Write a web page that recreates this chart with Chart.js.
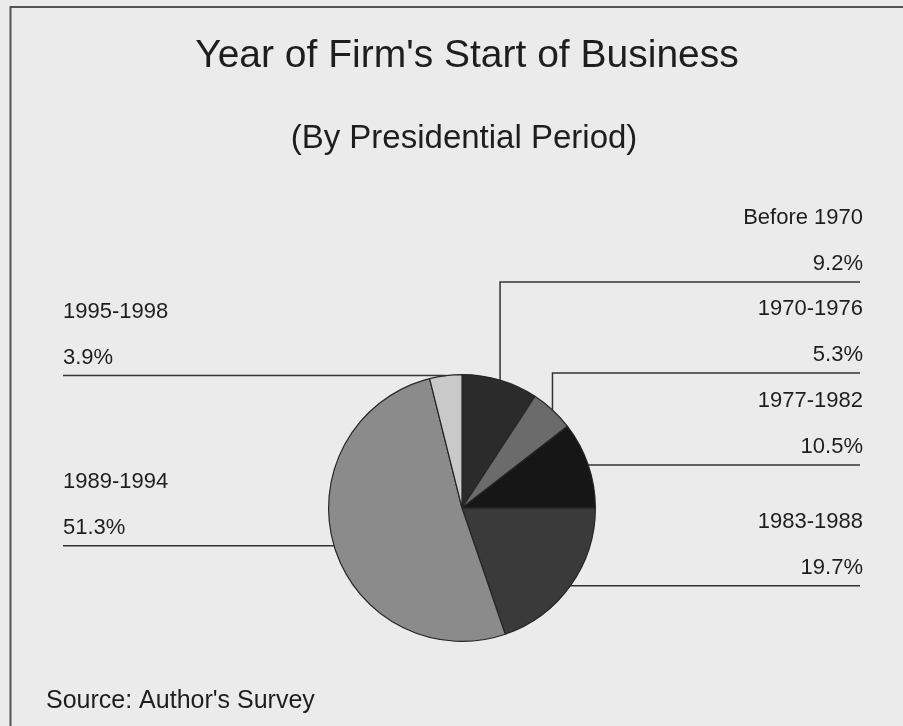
<!DOCTYPE html>
<html>
<head>
<meta charset="utf-8">
<script src="https://cdn.jsdelivr.net/npm/chart.js@4/dist/chart.umd.min.js"></script>
<style>
  html, body { margin: 0; padding: 0; background: #ebebeb; }
  #wrap { width: 903px; height: 726px; position: relative; }
</style>
</head>
<body>
<div id="wrap"><canvas id="startChart" width="903" height="726"></canvas></div>
<script>
'use strict';

const PERIODS = ['Before 1970', '1970-1976', '1977-1982', '1983-1988', '1989-1994', '1995-1998'];
const SHARES  = [9.2, 5.3, 10.5, 19.7, 51.3, 3.9];
const SHADES  = ['#2b2b2b', '#6b6b6b', '#161616', '#3a3a3a', '#8b8b8b', '#c9c9c9'];

const TITLE    = "Year of Firm's Start of Business";
const SUBTITLE = '(By Presidential Period)';
const SOURCE   = "Source: Author's Survey";

// label side and, where the rule sits above the slice, its y
const LABEL_SIDE = ['right', 'right', 'right', 'right', 'left', 'left'];
const RULE_Y     = [282, 373, null, null, null, null];

const FONT = '"Liberation Sans", Arial, sans-serif';
const INK = '#1e1e1e';

const calloutPlugin = {
  id: 'callouts',
  beforeDraw(chart) {
    const { ctx } = chart;
    ctx.save();
    ctx.fillStyle = '#ebebeb';
    ctx.fillRect(0, 0, chart.width, chart.height);
    ctx.restore();
  },
  afterDraw(chart) {
    const { ctx } = chart;
    const arcs = chart.getDatasetMeta(0).data;
    ctx.save();

    // frame (top and left edges only)
    ctx.strokeStyle = '#555';
    ctx.lineWidth = 2;
    ctx.beginPath();
    ctx.moveTo(903, 7);
    ctx.lineTo(10.5, 7);
    ctx.lineTo(10.5, 726);
    ctx.stroke();

    ctx.fillStyle = INK;
    ctx.textAlign = 'center';
    ctx.textBaseline = 'alphabetic';
    ctx.font = `39px ${FONT}`;
    ctx.fillText(TITLE, 467, 67);
    ctx.font = `33px ${FONT}`;
    ctx.fillText(SUBTITLE, 464, 148);

    ctx.textAlign = 'left';
    ctx.font = `25px ${FONT}`;
    ctx.fillText(SOURCE, 46, 708);

    ctx.font = `22px ${FONT}`;
    ctx.strokeStyle = '#333';
    ctx.lineWidth = 1.5;
    arcs.forEach((arc, i) => {
      const p = arc.getProps(['x', 'y', 'startAngle', 'endAngle', 'outerRadius'], true);
      const mid = (p.startAngle + p.endAngle) / 2;
      const ax = p.x + Math.cos(mid) * p.outerRadius;
      const ay = p.y + Math.sin(mid) * p.outerRadius;
      const ruleY = RULE_Y[i] != null ? RULE_Y[i] : ay;
      const right = LABEL_SIDE[i] === 'right';
      const edge = right ? 860 : 63;

      ctx.beginPath();
      ctx.moveTo(ax, ay);
      if (ruleY !== ay) ctx.lineTo(ax, ruleY);
      ctx.lineTo(edge, ruleY);
      ctx.stroke();

      ctx.textAlign = right ? 'right' : 'left';
      const tx = right ? 863 : 63;
      ctx.fillText(PERIODS[i], tx, ruleY - 58);
      ctx.fillText(SHARES[i].toFixed(1) + '%', tx, ruleY - 12);
    });

    ctx.restore();
  }
};

new Chart(document.getElementById('startChart'), {
  type: 'pie',
  data: {
    labels: PERIODS,
    datasets: [{
      data: SHARES,
      backgroundColor: SHADES,
      borderColor: '#262626',
      borderWidth: 1.2,
    }],
  },
  options: {
    responsive: false,
    animation: false,
    layout: { padding: { left: 328, right: 307, top: 374, bottom: 84 } },
    plugins: {
      legend: { display: false },
      tooltip: { enabled: false },
    },
  },
  plugins: [calloutPlugin],
});
</script>
</body>
</html>
